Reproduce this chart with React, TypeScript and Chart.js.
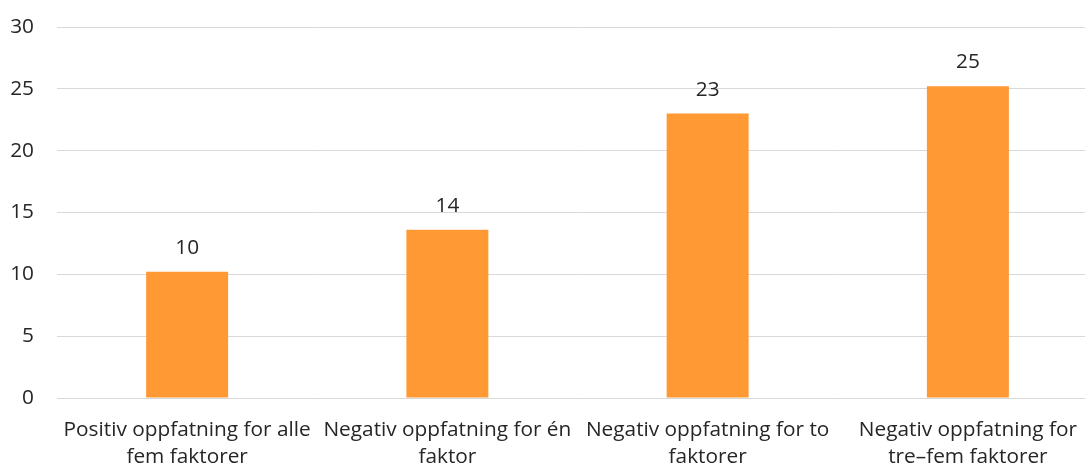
import React, { useEffect, useRef } from "react";
import { Chart, registerables } from "chart.js";

Chart.register(...registerables);

const categories: string[][] = [
  ["Positiv oppfatning for alle", "fem faktorer"],
  ["Negativ oppfatning for én", "faktor"],
  ["Negativ oppfatning for to", "faktorer"],
  ["Negativ oppfatning for", "tre–fem faktorer"],
];
const values: number[] = [10.2, 13.6, 23.0, 25.2];
const valueLabels: string[] = ["10", "14", "23", "25"];
const yMin = 0;
const yMax = 30;
const yStep = 5;

const FONT = '"Open Sans", "Noto Sans", sans-serif';
const FONT_SIZE = 20.8;
const TEXT = "#262626";
const BAR = "#FF9933";
const GRID = "#D9D9D9";

const labelPlugin = {
  id: "valueLabels",
  afterDatasetsDraw(chart: any) {
    const ctx = chart.ctx;
    const meta = chart.getDatasetMeta(0);
    ctx.save();
    ctx.font = `${FONT_SIZE}px ${FONT}`;
    ctx.fillStyle = TEXT;
    ctx.textAlign = "center";
    ctx.textBaseline = "alphabetic";
    meta.data.forEach((bar: any, i: number) => {
      ctx.fillText(valueLabels[i], bar.x, bar.y - 18);
    });
    ctx.restore();
  },
};

export default function App() {
  const ref = useRef<HTMLCanvasElement | null>(null);
  useEffect(() => {
    if (!ref.current) return;
    const chart = new Chart(ref.current, {
      type: "bar",
      data: {
        labels: categories,
        datasets: [
          {
            data: values,
            backgroundColor: BAR,
            borderWidth: 0,
            categoryPercentage: 1,
            barPercentage: 0.315,
          },
        ],
      },
      options: {
        responsive: false,
        animation: false,
        layout: { padding: { top: 27, right: 12, left: 0, bottom: 0 } },
        plugins: { legend: { display: false }, tooltip: { enabled: false } },
        scales: {
          x: {
            grid: { display: false, drawTicks: false },
            border: { display: false },
            ticks: {
              autoSkip: false,
              maxRotation: 0,
              minRotation: 0,
              padding: 18,
              color: TEXT,
              font: { family: FONT, size: FONT_SIZE, lineHeight: 1.33 },
            },
            afterFit: (s: any) => {
              s.height = 69;
              s.paddingLeft = 0;
              s.paddingRight = 0;
            },
          },
          y: {
            min: yMin,
            max: yMax,
            grid: { color: GRID, lineWidth: 1, drawTicks: false },
            border: { display: false },
            ticks: {
              stepSize: yStep,
              padding: 23,
              color: TEXT,
              font: { family: FONT, size: FONT_SIZE },
            },
            afterFit: (s: any) => {
              s.width = 57;
              s.paddingTop = 0;
              s.paddingBottom = 0;
            },
          },
        },
      },
      plugins: [labelPlugin],
    });
    return () => chart.destroy();
  }, []);
  return (
    <div
      style={{
        position: "fixed",
        left: 0,
        top: 0,
        width: 1085,
        height: 467,
        overflow: "hidden",
        background: "#fff",
      }}
    >
      <canvas ref={ref} width={1110} height={467} style={{ display: "block" }} />
    </div>
  );
}
